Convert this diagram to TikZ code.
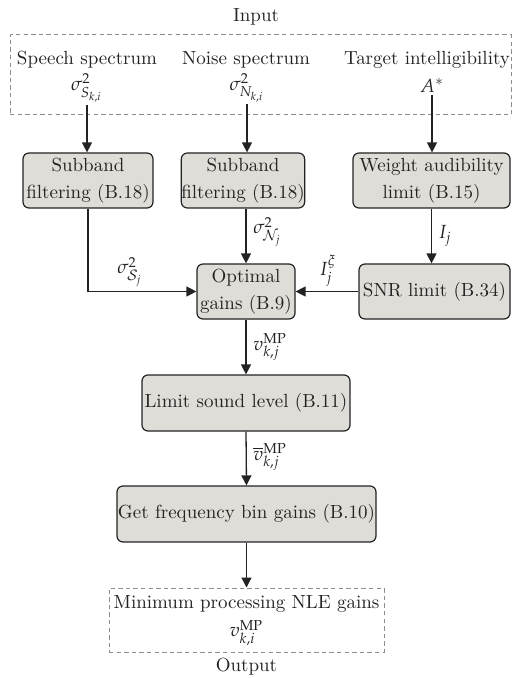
\documentclass[tikz,border=0pt]{standalone}
\usepackage{mathpazo}
\usetikzlibrary{arrows.meta}
\definecolor{boxfill}{RGB}{223,221,216}
\definecolor{dashgray}{RGB}{140,140,140}
\definecolor{ink}{RGB}{35,35,35}
\begin{document}
\begin{tikzpicture}[x=0.5pt,y=-0.5pt,
  font=\fontsize{9.5}{13.5}\selectfont, color=ink,
  box/.style={draw=ink, rounded corners=3pt, fill=boxfill, align=center, inner sep=0pt, line width=0.6pt, minimum height=27.5pt},
  dbox/.style={draw=dashgray, dash pattern=on 2.2pt off 1.6pt, line width=0.5pt, inner sep=0pt},
  arr/.style={draw=ink, -{Triangle[length=5pt,width=5pt]}, line width=0.65pt},
  lab/.style={inner sep=0.5pt},
  txt/.style={inner sep=1pt}]
\useasboundingbox (0,0) rectangle (512,678);

% input frame
\node[dbox, minimum width=250.5pt, minimum height=40pt] (inbox) at (260.5,75) {};
\node[txt] (inlab) at (256,17) {Input};
\node[txt] (t1) at (87,60) {Speech spectrum};
\node[txt] (t2) at (246,60) {Noise spectrum};
\node[txt] (t3) at (427,60) {Target intelligibility};
\node[txt] (s1) at (87,88) {$\sigma^2_{S_{k,i}}$};
\node[txt] (s2) at (247,88) {$\sigma^2_{N_{k,i}}$};
\node[txt] (s3) at (432,86) {$A^*$};

% boxes
\node[box, minimum width=65pt] (b1) at (88,180.5) {Subband\\filtering (B.18)};
\node[box, minimum width=61pt] (b2) at (243,180.5) {Subband\\filtering (B.18)};
\node[box, minimum width=78.5pt] (b3) at (431.5,180.5) {Weight audibility\\limit (B.15)};
\node[box, minimum width=49pt] (opt) at (246,291.5) {Optimal\\gains (B.9)};
\node[box, minimum width=75.5pt] (snr) at (434.5,291.5) {SNR limit (B.34)};
\node[box, minimum width=104pt, minimum height=28pt] (lim) at (246,403) {Limit sound level (B.11)};
\node[box, minimum width=129.5pt, minimum height=28pt] (gf) at (246.5,514) {Get frequency bin gains (B.10)};

% output frame
\node[dbox, minimum width=137.5pt, minimum height=32pt] (outbox) at (246.5,620) {};
\node[txt] (o1) at (246.5,604) {Minimum processing NLE gains};
\node[txt] (o2) at (246.5,633) {$v^{\mathrm{MP}}_{k,i}$};
\node[txt] (outlab) at (246.5,667) {Output};

% arrows
\draw[arr] (s1) -- (s1 |- b1.north);
\draw[arr] (s2) -- (s2 |- b2.north);
\draw[arr] (s3) -- (s3 |- b3.north);
\draw[arr] (b1.south) |- (opt.west);
\draw[arr] (opt.north |- b2.south) -- (opt.north);
\draw[arr] (b3.south) -- (b3.south |- snr.north);
\draw[arr] (snr.west) -- (opt.east);
\draw[arr] (opt.south) -- (lim.north);
\draw[arr] (lim.south) -- (gf.north);
\draw[arr] (gf.south) -- (outbox.north);

% labels
\node[lab] (l1) at (130,272) {$\sigma^2_{\mathcal{S}_j}$};
\node[lab, anchor=west] (l2) at (252,232) {$\sigma^2_{\mathcal{N}_j}$};
\node[lab, anchor=west] (l3) at (437,236) {$I_j$};
\node[lab] (l4) at (328,271) {$I_j^{\xi}$};
\node[lab, anchor=west] (l5) at (252,347) {$v^{\mathrm{MP}}_{k,j}$};
\node[lab, anchor=west] (l6) at (252,457) {$\overline{v}^{\mathrm{MP}}_{k,j}$};
\end{tikzpicture}
\end{document}
